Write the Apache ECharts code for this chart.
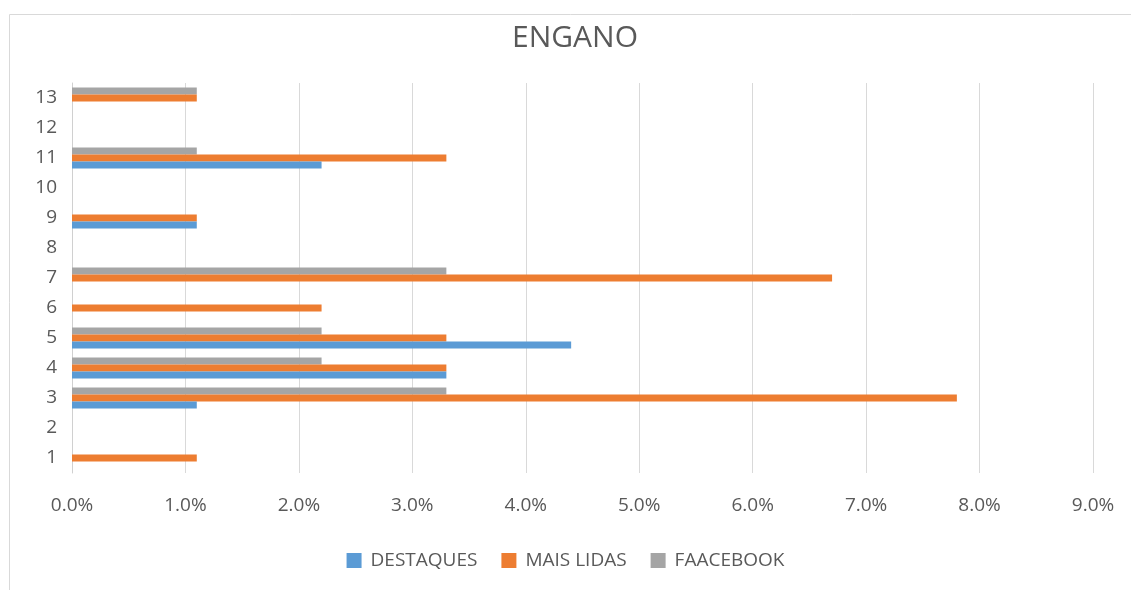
<!DOCTYPE html>
<html>
<head>
<meta charset="utf-8">
<title>ENGANO</title>
<script src="https://cdn.jsdelivr.net/npm/echarts@6/dist/echarts.min.js"></script>
<style>
    html, body { margin: 0; padding: 0; background: #ffffff; }
    #main { width: 1131px; height: 590px; }
</style>
</head>
<body>
<div id="main"></div>
<script>
    // dados (percentual)
    var categorias = ['1', '2', '3', '4', '5', '6', '7', '8', '9', '10', '11', '12', '13'];
    var destaques = [0, 0, 1.1, 3.3, 4.4, 0, 0, 0, 1.1, 0, 2.2, 0, 0];
    var maisLidas = [1.1, 0, 7.8, 3.3, 3.3, 2.2, 6.7, 0, 1.1, 0, 3.3, 0, 1.1];
    var faacebook = [0, 0, 3.3, 2.2, 2.2, 0, 3.3, 0, 0, 0, 1.1, 0, 1.1];
    var nomes = ['DESTAQUES', 'MAIS LIDAS', 'FAACEBOOK'];
    var cores = ['#5B9BD5', '#ED7D31', '#A5A5A5'];

    var myChart = echarts.init(document.getElementById('main'));

    var fonte = "'Open Sans', 'Noto Sans', sans-serif";

    function serie(i, dados) {
        return {
            name: nomes[i],
            type: 'bar',
            data: dados,
            barGap: '0%',
            barCategoryGap: '30%',
            itemStyle: { color: cores[i] }
        };
    }

    var option = {
        animation: false,
        title: {
            text: 'ENGANO',
            left: 507,
            top: 18,
            textStyle: { fontFamily: fonte, fontSize: 30, fontWeight: 'normal', color: '#595959' }
        },
        graphic: [{
            type: 'rect',
            left: 7, top: 12,
            shape: { width: 1140, height: 590 },
            style: { fill: 'none', stroke: '#d9d9d9', lineWidth: 1 },
            silent: true
        }],
        legend: {
            data: nomes,
            top: 546,
            left: 'center',
            itemWidth: 15,
            itemHeight: 15,
            itemGap: 24,
            icon: 'rect',
            textStyle: { fontFamily: fonte, fontSize: 19, color: '#595959', padding: [0, 0, 0, 4] }
        },
        grid: { left: 72, right: 38, top: 83, bottom: 117, containLabel: false },
        xAxis: {
            type: 'value',
            min: 0,
            max: 9,
            interval: 1,
            axisLine: { show: false },
            axisTick: { show: false },
            splitLine: { lineStyle: { color: '#d9d9d9', width: 1 } },
            axisLabel: {
                margin: 23,
                fontFamily: fonte, fontSize: 19, color: '#595959',
                formatter: function (v) { return v.toFixed(1) + '%'; }
            }
        },
        yAxis: {
            type: 'category',
            data: categorias,
            axisLine: { lineStyle: { color: '#d0d0d0' } },
            axisTick: { length: 10, lineStyle: { color: '#d0d0d0' } },
            splitLine: { show: false },
            axisLabel: { margin: 15, fontFamily: fonte, fontSize: 19, color: '#595959' }
        },
        // ordem invertida: no ECharts a primeira série fica em cima
        series: [serie(2, faacebook), serie(1, maisLidas), serie(0, destaques)]
    };

    myChart.setOption(option);
</script>
</body>
</html>
